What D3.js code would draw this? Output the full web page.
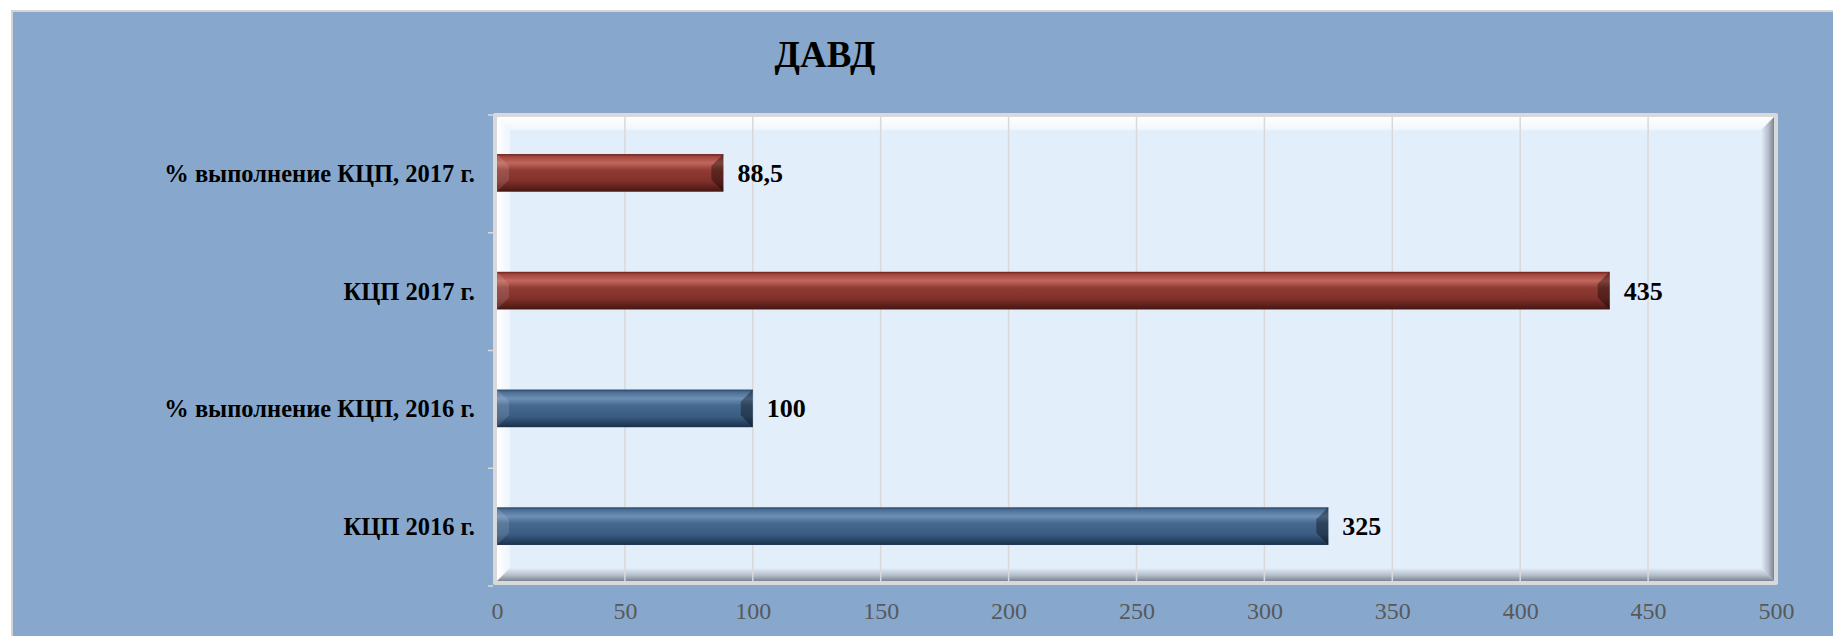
<!DOCTYPE html>
<html>
<head>
<meta charset="utf-8">
<script src="https://cdn.jsdelivr.net/npm/d3@7"></script>
<style>
  body { margin: 0; background: #fff; }
  svg { display: block; font-family: "Liberation Serif", "Times New Roman", serif; }
</style>
</head>
<body>
<div id="chart"></div>
<script>
// data
var categories = ["% выполнение КЦП, 2017 г.", "КЦП 2017 г.", "% выполнение КЦП, 2016 г.", "КЦП 2016 г."];
var values = [88.5, 435, 100, 325];
var valueLabels = ["88,5", "435", "100", "325"];
var seriesYear = [2017, 2017, 2016, 2016];
var xTicks = [0, 50, 100, 150, 200, 250, 300, 350, 400, 450, 500];
var title = "ДАВД";

var svgWidth = 1833;
var svgHeight = 636;

// plot frame (outer grey border) and inner area
var frame = { left: 493, top: 113, right: 1778, bottom: 585 };
var inner = { left: 497, top: 117, right: 1774, bottom: 581 };
var bev = 13;

var svg = d3.select("#chart").append("svg")
  .attr("width", svgWidth)
  .attr("height", svgHeight);

var defs = svg.append("defs");

function vGrad(id, stops, horiz) {
  var g = defs.append("linearGradient").attr("id", id)
    .attr("x1", 0).attr("y1", 0)
    .attr("x2", horiz ? 1 : 0).attr("y2", horiz ? 0 : 1);
  stops.forEach(function(s) {
    g.append("stop").attr("offset", s[0]).attr("stop-color", s[1]);
  });
}

vGrad("bar2017", [["0%", "#6a231e"], ["7%", "#a4463e"], ["24%", "#c0685f"], ["42%", "#913c34"], ["72%", "#80302a"], ["90%", "#5c1f1a"], ["100%", "#451612"]]);
vGrad("bar2016", [["0%", "#2a4566"], ["7%", "#4c6f96"], ["24%", "#6e90b7"], ["42%", "#46698f"], ["72%", "#3a5c82"], ["90%", "#24405f"], ["100%", "#1a304c"]]);
vGrad("bevTop", [["0%", "#ffffff"], ["100%", "#f0f6fc"]]);
vGrad("bevLeft", [["0%", "#ffffff"], ["100%", "#eef5fc"]], true);
vGrad("bevRight", [["0%", "#e2eefa"], ["55%", "#b6bfca"], ["100%", "#7c8491"]], true);
vGrad("bevBottom", [["0%", "#e2eefa"], ["55%", "#b6bfca"], ["100%", "#7c8491"]]);

// outer panel
svg.append("rect")
  .attr("x", 11).attr("y", 10)
  .attr("width", svgWidth).attr("height", svgHeight)
  .attr("fill", "#d4d4d4");
svg.append("rect")
  .attr("x", 13).attr("y", 12)
  .attr("width", svgWidth).attr("height", svgHeight)
  .attr("fill", "#87a8cc");

// title
svg.append("text")
  .attr("x", 825).attr("y", 67)
  .attr("text-anchor", "middle")
  .style("font-size", "37px")
  .style("font-weight", "bold")
  .text(title);

// scales
var x = d3.scaleLinear().domain([0, 500]).range([497, 1776]);
var y = d3.scaleBand().domain(categories).range([114, 585])
  .paddingInner(0.68).paddingOuter(0.34);
var yBand = d3.scaleBand().domain(categories).range([114, 585]);

// plot frame with bevel
svg.append("rect")
  .attr("x", frame.left).attr("y", frame.top)
  .attr("width", frame.right - frame.left).attr("height", frame.bottom - frame.top)
  .attr("rx", 2)
  .attr("fill", "#d9d9d9");
svg.append("rect")
  .attr("x", inner.left).attr("y", inner.top)
  .attr("width", inner.right - inner.left).attr("height", inner.bottom - inner.top)
  .attr("fill", "#e2eefa");

function poly(pts, fill) {
  svg.append("polygon")
    .attr("points", pts.map(function(p) { return p.join(","); }).join(" "))
    .attr("fill", fill);
}
var L = inner.left, R = inner.right, T = inner.top, B = inner.bottom;
poly([[L, T], [R, T], [R - bev, T + bev], [L + bev, T + bev]], "url(#bevTop)");
poly([[L, T], [L + bev, T + bev], [L + bev, B - bev], [L, B]], "url(#bevLeft)");
poly([[R, T], [R, B], [R - bev, B - bev], [R - bev, T + bev]], "url(#bevRight)");
poly([[L, B], [R, B], [R - bev, B - bev], [L + bev, B - bev]], "url(#bevBottom)");

// vertical gridlines
svg.append("g").selectAll("line")
  .data(xTicks.slice(1, -1))
  .enter().append("line")
  .attr("x1", function(d) { return x(d); })
  .attr("x2", function(d) { return x(d); })
  .attr("y1", inner.top)
  .attr("y2", inner.bottom)
  .attr("stroke", "#d9d9d9")
  .attr("stroke-width", 1.5);

// y axis tick marks at band boundaries
var bounds = categories.map(function(c) { return yBand(c); }).concat([585]);
svg.append("g").selectAll("line")
  .data(bounds)
  .enter().append("line")
  .attr("x1", 488).attr("x2", frame.left)
  .attr("y1", function(d) { return d + 1; })
  .attr("y2", function(d) { return d + 1; })
  .attr("stroke", "#d9d9d9")
  .attr("stroke-width", 1.5);

// x axis labels
var xAxis = d3.axisBottom(x).tickValues(xTicks).tickSize(0).tickPadding(0);
var xg = svg.append("g")
  .attr("transform", "translate(0,600)")
  .call(xAxis);
xg.select(".domain").remove();
xg.selectAll("text")
  .attr("dy", "0.8em")
  .attr("fill", "#595959")
  .style("font-size", "24px")
  .style("font-family", "Liberation Serif");

// bars
var bars = svg.append("g").selectAll("g")
  .data(values)
  .enter().append("g");

bars.each(function(d, i) {
  var g = d3.select(this);
  var x0 = x(0), x1 = x(d);
  var y0 = y(categories[i]), h = y.bandwidth(), y1 = y0 + h;
  var b = 12;
  g.append("rect")
    .attr("x", x0).attr("y", y0)
    .attr("width", x1 - x0).attr("height", h)
    .attr("fill", seriesYear[i] === 2017 ? "url(#bar2017)" : "url(#bar2016)");
  // angled ends
  g.append("polygon")
    .attr("points", [[x0, y0], [x0 + b, y0 + b], [x0 + b, y1 - b], [x0, y1]].join(" "))
    .attr("fill", "#ffffff").attr("opacity", 0.12);
  g.append("polygon")
    .attr("points", [[x1, y0], [x1, y1], [x1 - b, y1 - b], [x1 - b, y0 + b]].join(" "))
    .attr("fill", "#000000").attr("opacity", 0.35);
});

// value labels
svg.append("g").selectAll("text")
  .data(values)
  .enter().append("text")
  .attr("x", function(d) { return x(d) + 14; })
  .attr("y", function(d, i) { return y(categories[i]) + y.bandwidth() / 2 + 9; })
  .style("font-size", "26px")
  .style("font-weight", "bold")
  .text(function(d, i) { return valueLabels[i]; });

// category labels
svg.append("g").selectAll("text")
  .data(categories)
  .enter().append("text")
  .attr("x", 475)
  .attr("y", function(d) { return y(d) + y.bandwidth() / 2 + 9; })
  .attr("text-anchor", "end")
  .style("font-size", "24.5px")
  .style("font-weight", "bold")
  .text(function(d) { return d; });
</script>
</body>
</html>
